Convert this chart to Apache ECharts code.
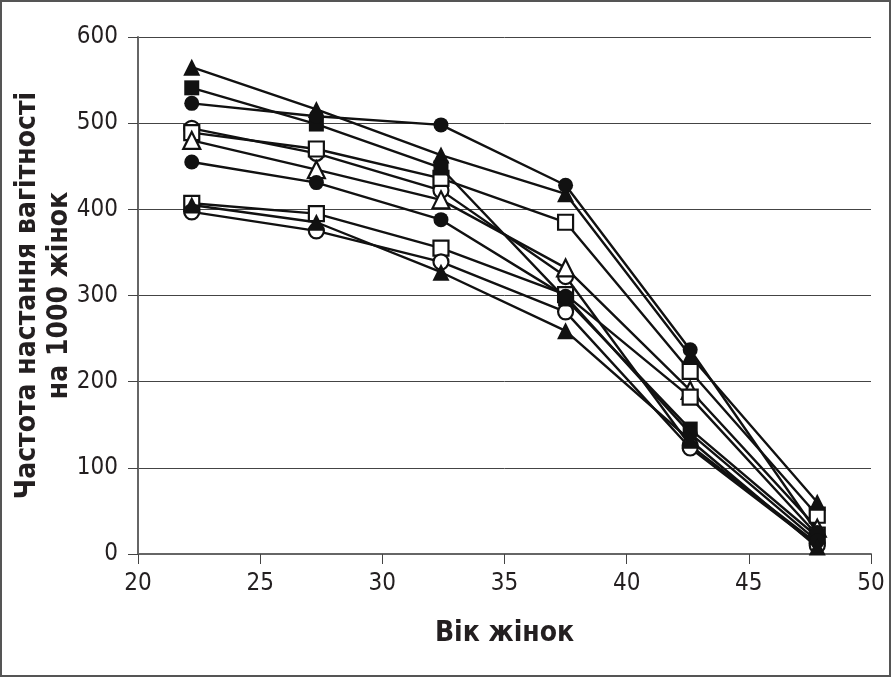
<!DOCTYPE html>
<html>
<head>
<meta charset="utf-8">
<script src="https://cdn.jsdelivr.net/npm/echarts@6/dist/echarts.min.js"></script>
<style>
html,body{margin:0;padding:0;background:#fff;}
#c{width:892px;height:678px;}
</style>
</head>
<body>
<div id="c"></div>
<script>
var ages = [22.2, 27.3, 32.4, 37.5, 42.6, 47.8];
var xTicks = [20, 25, 30, 35, 40, 45, 50];
var yTicks = [0, 100, 200, 300, 400, 500, 600];

var filledTriangleA = [565, 516, 463, 418, 230, 60];
var filledSquare    = [541, 499, 448, 296, 145, 20];
var filledCircleA   = [523, 508, 498, 428, 237, 25];
var openCircleA     = [494, 465, 422, 322, 126, 12];
var openSquareA     = [489, 470, 436, 385, 212, 45];
var openTriangle    = [480, 446, 411, 332, 190, 30];
var filledCircleB   = [455, 431, 388, 299, 140, 15];
var openSquareB     = [407, 395, 355, 301, 182, 22];
var filledTriangleB = [405, 385, 327, 259, 132, 8];
var openCircleB     = [397, 375, 339, 281, 123, 10];

var seriesDefs = [
  {name:'ft1', data:filledTriangleA, symbol:'triangle', filled:true},
  {name:'fs',  data:filledSquare,    symbol:'rect',     filled:true},
  {name:'fc1', data:filledCircleA,   symbol:'circle',   filled:true},
  {name:'oc1', data:openCircleA,     symbol:'circle',   filled:false},
  {name:'os1', data:openSquareA,     symbol:'rect',     filled:false},
  {name:'ot',  data:openTriangle,    symbol:'triangle', filled:false},
  {name:'fc2', data:filledCircleB,   symbol:'circle',   filled:true},
  {name:'os2', data:openSquareB,     symbol:'rect',     filled:false},
  {name:'ft2', data:filledTriangleB, symbol:'triangle', filled:true},
  {name:'oc2', data:openCircleB,     symbol:'circle',   filled:false}
];

var FONT = '"DejaVu Sans Condensed", "Liberation Sans Narrow", sans-serif';
var chart = echarts.init(document.getElementById('c'), null, {renderer:'canvas'});

var series = seriesDefs.map(function(d){
  return {
    name: d.name,
    type: 'line',
    data: ages.map(function(a, i){ return [a, d.data[i]]; }),
    symbol: d.symbol,
    symbolSize: d.symbol === 'triangle' ? 17 : 15,
    showAllSymbol: true,
    lineStyle: {color:'#111', width:2.4},
    itemStyle: {color: d.filled ? '#111' : '#fff', borderColor:'#111', borderWidth: d.filled ? 0 : 2.2, opacity:1},
    emphasis: {disabled:true},
    animation: false,
    z: d.filled ? 3 : 2
  };
});

chart.setOption({
  animation: false,
  backgroundColor: '#fff',
  grid: {left:138, right:21, top:37, bottom:124, containLabel:false, outerBoundsMode:'none'},
  graphic: [{
    type:'rect', shape:{x:1, y:1, width:889, height:675},
    style:{fill:'none', stroke:'#555', lineWidth:2}, silent:true, z:-1
  }],
  xAxis: {
    type:'value', min:xTicks[0], max:xTicks[xTicks.length-1], interval:5,
    name:'Вік жінок', nameLocation:'middle', nameGap:66, nameMoveOverlap:false,
    nameTextStyle:{fontFamily:FONT, fontSize:28, fontWeight:'bold', color:'#231f20'},
    axisLine:{show:true, lineStyle:{color:'#666', width:2}},
    axisTick:{show:true, length:10, lineStyle:{color:'#444', width:1}},
    axisLabel:{fontFamily:FONT, fontSize:24, color:'#231f20', margin:18},
    splitLine:{show:false}
  },
  yAxis: {
    type:'value', min:yTicks[0], max:yTicks[yTicks.length-1], interval:100,
    name:'Частота настання вагітності\nна 1000 жінок', nameLocation:'middle', nameGap:62, nameRotate:90, nameMoveOverlap:false,
    nameTextStyle:{fontFamily:FONT, fontSize:28, fontWeight:'bold', color:'#231f20', lineHeight:32},
    axisLine:{show:true, lineStyle:{color:'#666', width:2}},
    axisTick:{show:true, length:10, lineStyle:{color:'#444', width:1}},
    axisLabel:{fontFamily:FONT, fontSize:24, color:'#231f20', margin:20},
    splitLine:{show:true, lineStyle:{color:'#444', width:1}}
  },
  series: series
});
</script>
</body>
</html>
